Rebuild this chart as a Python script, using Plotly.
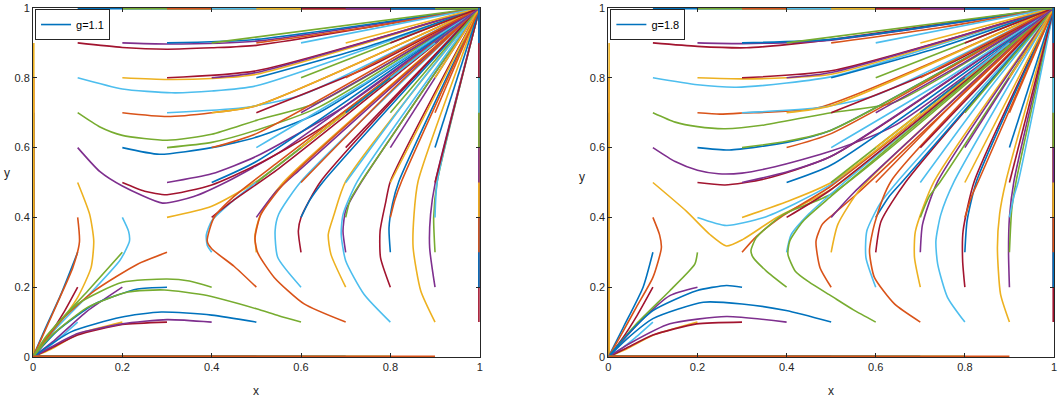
import plotly.graph_objects as go

# MATLAB default colour order, cycled in plotting order (outer loop x0, inner loop y0)
COLORS = ['#0072BD', '#D95319', '#EDB120', '#7E2F8E', '#77AC30', '#4DBEEE', '#A2142F']
TICK_VALS = [0, 0.2, 0.4, 0.6, 0.8, 1]
TICK_TEXT = ['0', '0.2', '0.4', '0.6', '0.8', '1']
PANEL_LABELS = ['g=1.1', 'g=1.8']

# ---- boundary trajectories (same in both panels) ----
LEFT_EDGE = [[[0, 0]], [[0, 0.1], [0, 0]], [[0, 0.2], [0, 0]], [[0, 0.3], [0, 0]], [[0, 0.4], [0, 0]],
             [[0, 0.5], [0, 0]], [[0, 0.6], [0, 0]], [[0, 0.7], [0, 0]], [[0, 0.8], [0, 0]],
             [[0, 0.9], [0, 0]], [[0, 1]]]
RIGHT_EDGE = [[[1, 0]], [[1, 0.1], [1, 1]], [[1, 0.2], [1, 1]], [[1, 0.3], [1, 1]], [[1, 0.4], [1, 1]],
              [[1, 0.5], [1, 1]], [[1, 0.6], [1, 1]], [[1, 0.7], [1, 1]], [[1, 0.8], [1, 1]],
              [[1, 0.9], [1, 1]], [[1, 1]]]
BOTTOM_EDGE = [[[0.1, 0], [0, 0]], [[0.2, 0], [0, 0]], [[0.3, 0], [0, 0]], [[0.4, 0], [0, 0]],
               [[0.5, 0], [0, 0]], [[0.6, 0], [0, 0]], [[0.7, 0], [0, 0]], [[0.8, 0], [0, 0]],
               [[0.9, 0], [0, 0]]]
TOP_EDGE = [[[0.1, 1], [1, 1]], [[0.2, 1], [1, 1]], [[0.3, 1], [1, 1]], [[0.4, 1], [1, 1]],
            [[0.5, 1], [1, 1]], [[0.6, 1], [1, 1]], [[0.7, 1], [1, 1]], [[0.8, 1], [1, 1]],
            [[0.9, 1], [1, 1]]]

# ---- g = 1.1 : interior trajectories, one list per starting x0, y0 = 0.1 ... 0.9 ----
g11_x1 = [
    [[0.1, 0.1], [0.06, 0.055], [0.025, 0.02], [0, 0]],
    [[0.1, 0.2], [0.07, 0.13], [0.035, 0.06], [0, 0]],
    [[0.1, 0.3], [0.063, 0.181], [0.026, 0.077], [0, 0]],
    [[0.1, 0.4], [0.104, 0.33], [0.089, 0.256], [0.06, 0.17], [0.025, 0.07], [0, 0]],
    [[0.1, 0.5], [0.127, 0.408], [0.136, 0.332], [0.13, 0.256], [0.1, 0.171], [0.048, 0.077], [0, 0]],
    [[0.1, 0.6], [0.15, 0.531], [0.2, 0.49], [0.29, 0.441], [0.36, 0.46], [0.435, 0.503], [0.55, 0.585], [0.7, 0.72], [1, 1]],
    [[0.1, 0.7], [0.15, 0.659], [0.2, 0.635], [0.3, 0.621], [0.4, 0.638], [0.5, 0.678], [0.64, 0.73], [1, 1]],
    [[0.1, 0.8], [0.2, 0.768], [0.31, 0.757], [0.4, 0.762], [0.5, 0.777], [1, 1]],
    [[0.1, 0.9], [0.2, 0.887], [0.3, 0.882], [0.4, 0.886], [0.5, 0.893], [1, 1]],
]
g11_x2 = [
    [[0.2, 0.1], [0.1, 0.065], [0.04, 0.022], [0, 0]],
    [[0.2, 0.2], [0.12, 0.13], [0.05, 0.05], [0, 0]],
    [[0.2, 0.3], [0.123, 0.19], [0.048, 0.086], [0, 0]],
    [[0.2, 0.4], [0.214, 0.36], [0.216, 0.332], [0.205, 0.3], [0.194, 0.276], [0.13, 0.185], [0.05, 0.08], [0, 0]],
    [[0.2, 0.5], [0.25, 0.475], [0.3, 0.465], [0.4, 0.493], [0.5, 0.55], [0.65, 0.66], [1, 1]],
    [[0.2, 0.6], [0.283, 0.581], [0.4, 0.6], [0.5, 0.63], [0.64, 0.7], [1, 1]],
    [[0.2, 0.7], [0.3, 0.689], [0.4, 0.7], [0.5, 0.72], [1, 1]],
    [[0.2, 0.8], [0.3, 0.795], [0.4, 0.798], [0.5, 0.81], [1, 1]],
    [[0.2, 0.9], [0.3, 0.897], [0.5, 0.905], [1, 1]],
]
g11_x3 = [
    [[0.3, 0.1], [0.2, 0.093], [0.1, 0.063], [0.04, 0.025], [0, 0]],
    [[0.3, 0.2], [0.234, 0.195], [0.138, 0.152], [0.056, 0.077], [0, 0]],
    [[0.3, 0.3], [0.234, 0.266], [0.138, 0.19], [0.063, 0.105], [0, 0]],
    [[0.3, 0.4], [0.4, 0.432], [0.5, 0.503], [0.7, 0.7], [1, 1]],
    [[0.3, 0.5], [0.4, 0.525], [0.5, 0.575], [0.7, 0.72], [1, 1]],
    [[0.3, 0.6], [0.4, 0.615], [0.5, 0.65], [0.64, 0.716], [1, 1]],
    [[0.3, 0.7], [0.47, 0.714], [0.6, 0.75], [1, 1]],
    [[0.3, 0.8], [0.5, 0.82], [1, 1]],
    [[0.3, 0.9], [0.5, 0.91], [1, 1]],
]
g11_x4 = [
    [[0.4, 0.1], [0.3, 0.107], [0.2, 0.095], [0.1, 0.067], [0.04, 0.028], [0, 0]],
    [[0.4, 0.2], [0.35, 0.218], [0.3, 0.2235], [0.2, 0.214], [0.1, 0.152], [0.03, 0.06], [0, 0]],
    [[0.4, 0.3], [0.39, 0.32], [0.388, 0.35], [0.4, 0.39], [0.45, 0.45], [0.55, 0.55], [1, 1]],
    [[0.4, 0.4], [0.45, 0.45], [0.55, 0.54], [1, 1]],
    [[0.4, 0.5], [0.5, 0.56], [1, 1]],
    [[0.4, 0.6], [0.5, 0.64], [1, 1]],
    [[0.4, 0.7], [0.5, 0.72], [1, 1]],
    [[0.4, 0.8], [0.5, 0.815], [1, 1]],
    [[0.4, 0.9], [1, 1]],
]
g11_x5 = [
    [[0.5, 0.1], [0.4, 0.12], [0.287, 0.129], [0.197, 0.114], [0.085, 0.072], [0, 0]],
    [[0.5, 0.2], [0.45, 0.26], [0.4, 0.31], [0.39, 0.332], [0.405, 0.399], [0.45, 0.46], [0.55, 0.56], [1, 1]],
    [[0.5, 0.3], [0.497, 0.35], [0.51, 0.41], [0.56, 0.5], [1, 1]],
    [[0.5, 0.4], [0.544, 0.474], [0.6, 0.54], [1, 1]],
    [[0.5, 0.5], [1, 1]],
    [[0.5, 0.6], [0.75, 0.79], [1, 1]],
    [[0.5, 0.7], [0.75, 0.83], [1, 1]],
    [[0.5, 0.8], [0.75, 0.89], [1, 1]],
    [[0.5, 0.9], [0.75, 0.945], [1, 1]],
]
g11_x6 = [
    [[0.6, 0.1], [0.55, 0.118], [0.5, 0.138], [0.39, 0.176], [0.294, 0.192], [0.212, 0.186], [0.123, 0.143], [0.04, 0.06], [0, 0]],
    [[0.6, 0.2], [0.548, 0.285], [0.542, 0.361], [0.55, 0.409], [0.6, 0.503], [1, 1]],
    [[0.6, 0.3], [0.594, 0.361], [0.6, 0.4], [0.644, 0.503], [1, 1]],
    [[0.6, 0.4], [0.62, 0.45], [0.65, 0.503], [1, 1]],
    [[0.6, 0.5], [0.8, 0.76], [1, 1]],
    [[0.6, 0.6], [1, 1]],
    [[0.6, 0.7], [0.8, 0.845], [1, 1]],
    [[0.6, 0.8], [1, 1]],
    [[0.6, 0.9], [1, 1]],
]
g11_x7 = [
    [[0.7, 0.1], [0.607, 0.152], [0.54, 0.228], [0.503, 0.299], [0.497, 0.34], [0.51, 0.408], [0.566, 0.503], [1, 1]],
    [[0.7, 0.2], [0.667, 0.294], [0.661, 0.351], [0.674, 0.408], [0.7, 0.503], [1, 1]],
    [[0.7, 0.3], [0.694, 0.361], [0.7, 0.42], [0.736, 0.503], [1, 1]],
    [[0.7, 0.4], [0.71, 0.45], [0.735, 0.503], [1, 1]],
    [[0.7, 0.5], [0.85, 0.76], [1, 1]],
    [[0.7, 0.6], [1, 1]],
    [[0.7, 0.7], [1, 1]],
    [[0.7, 0.8], [1, 1]],
    [[0.7, 0.9], [1, 1]],
]
g11_x8 = [
    [[0.8, 0.1], [0.741, 0.18], [0.7, 0.276], [0.69, 0.351], [0.694, 0.408], [0.726, 0.503], [1, 1]],
    [[0.8, 0.2], [0.778, 0.285], [0.777, 0.361], [0.79, 0.446], [0.8, 0.503], [1, 1]],
    [[0.8, 0.3], [0.797, 0.37], [0.805, 0.44], [0.819, 0.503], [1, 1]],
    [[0.8, 0.4], [0.81, 0.45], [0.825, 0.503], [1, 1]],
    [[0.8, 0.5], [1, 1]],
    [[0.8, 0.6], [1, 1]],
    [[0.8, 0.7], [1, 1]],
    [[0.8, 0.8], [1, 1]],
    [[0.8, 0.9], [1, 1]],
]
g11_x9 = [
    [[0.9, 0.1], [0.868, 0.19], [0.851, 0.313], [0.853, 0.408], [0.862, 0.503], [1, 1]],
    [[0.9, 0.2], [0.888, 0.313], [0.89, 0.408], [0.901, 0.503], [1, 1]],
    [[0.9, 0.3], [0.897, 0.4], [0.905, 0.503], [1, 1]],
    [[0.9, 0.4], [0.905, 0.503], [1, 1]],
    [[0.9, 0.5], [1, 1]],
    [[0.9, 0.6], [1, 1]],
    [[0.9, 0.7], [1, 1]],
    [[0.9, 0.8], [1, 1]],
    [[0.9, 0.9], [1, 1]],
]

# ---- g = 1.8 ----
g18_x1 = [
    [[0.1, 0.1], [0.06, 0.055], [0.025, 0.02], [0, 0]],
    [[0.1, 0.2], [0.065, 0.12], [0.03, 0.05], [0, 0]],
    [[0.1, 0.3], [0.078, 0.2], [0.034, 0.086], [0, 0]],
    [[0.1, 0.4], [0.115, 0.35], [0.119, 0.313], [0.1, 0.228], [0.063, 0.143], [0.025, 0.055], [0, 0]],
    [[0.1, 0.5], [0.175, 0.418], [0.228, 0.351], [0.265, 0.318], [0.302, 0.337], [0.377, 0.399], [0.504, 0.484], [1, 1]],
    [[0.1, 0.6], [0.15, 0.56], [0.2, 0.535], [0.247, 0.525], [0.3, 0.527], [0.374, 0.545], [0.5, 0.59], [0.642, 0.663], [1, 1]],
    [[0.1, 0.7], [0.15, 0.673], [0.2, 0.66], [0.262, 0.654], [0.35, 0.665], [0.5, 0.7], [0.642, 0.73], [1, 1]],
    [[0.1, 0.8], [0.2, 0.78], [0.287, 0.773], [0.4, 0.785], [0.504, 0.804], [1, 1]],
    [[0.1, 0.9], [0.2, 0.89], [0.31, 0.886], [0.4, 0.895], [0.504, 0.91], [1, 1]],
]
g18_x2 = [
    [[0.2, 0.1], [0.1, 0.062], [0.04, 0.022], [0, 0]],
    [[0.2, 0.2], [0.138, 0.176], [0.07, 0.1], [0, 0]],
    [[0.2, 0.3], [0.194, 0.266], [0.138, 0.19], [0.063, 0.095], [0, 0]],
    [[0.2, 0.4], [0.265, 0.377], [0.347, 0.399], [0.42, 0.44], [0.504, 0.498], [1, 1]],
    [[0.2, 0.5], [0.262, 0.493], [0.35, 0.51], [0.5, 0.575], [1, 1]],
    [[0.2, 0.6], [0.272, 0.593], [0.4, 0.615], [0.5, 0.65], [1, 1]],
    [[0.2, 0.7], [0.25, 0.696], [0.3, 0.699], [0.47, 0.714], [1, 1]],
    [[0.2, 0.8], [0.3, 0.797], [0.4, 0.8], [0.5, 0.81], [1, 1]],
    [[0.2, 0.9], [0.3, 0.898], [0.5, 0.908], [1, 1]],
]
g18_x3 = [
    [[0.3, 0.1], [0.198, 0.095], [0.1, 0.063], [0.04, 0.025], [0, 0]],
    [[0.3, 0.2], [0.265, 0.205], [0.198, 0.19], [0.1, 0.133], [0.04, 0.06], [0, 0]],
    [[0.3, 0.3], [0.332, 0.345], [0.392, 0.405], [0.5, 0.49], [1, 1]],
    [[0.3, 0.4], [0.4, 0.445], [0.504, 0.503], [1, 1]],
    [[0.3, 0.5], [0.4, 0.53], [0.5, 0.575], [1, 1]],
    [[0.3, 0.6], [0.4, 0.618], [0.5, 0.65], [1, 1]],
    [[0.3, 0.7], [0.471, 0.714], [0.6, 0.75], [1, 1]],
    [[0.3, 0.8], [0.5, 0.82], [1, 1]],
    [[0.3, 0.9], [0.5, 0.91], [1, 1]],
]
g18_x4 = [
    [[0.4, 0.1], [0.265, 0.116], [0.138, 0.095], [0.05, 0.04], [0, 0]],
    [[0.4, 0.2], [0.354, 0.247], [0.325, 0.285], [0.32, 0.304], [0.332, 0.342], [0.392, 0.408], [0.504, 0.47], [1, 1]],
    [[0.4, 0.3], [0.41, 0.35], [0.45, 0.41], [0.52, 0.49], [1, 1]],
    [[0.4, 0.4], [0.5, 0.48], [1, 1]],
    [[0.4, 0.5], [0.5, 0.55], [1, 1]],
    [[0.4, 0.6], [0.5, 0.64], [1, 1]],
    [[0.4, 0.7], [0.5, 0.72], [1, 1]],
    [[0.4, 0.8], [0.5, 0.815], [1, 1]],
    [[0.4, 0.9], [1, 1]],
]
g18_x5 = [
    [[0.5, 0.1], [0.399, 0.133], [0.3, 0.152], [0.213, 0.157], [0.1, 0.11], [0.04, 0.05], [0, 0]],
    [[0.5, 0.2], [0.475, 0.256], [0.466, 0.332], [0.48, 0.38], [0.504, 0.408], [0.56, 0.47], [1, 1]],
    [[0.5, 0.3], [0.515, 0.38], [0.567, 0.484], [1, 1]],
    [[0.5, 0.4], [0.55, 0.47], [1, 1]],
    [[0.5, 0.5], [1, 1]],
    [[0.5, 0.6], [0.75, 0.79], [1, 1]],
    [[0.5, 0.7], [0.75, 0.83], [1, 1]],
    [[0.5, 0.8], [0.75, 0.89], [1, 1]],
    [[0.5, 0.9], [0.75, 0.945], [1, 1]],
]
g18_x6 = [
    [[0.6, 0.1], [0.55, 0.135], [0.5, 0.175], [0.45, 0.215], [0.42, 0.245], [0.403, 0.294], [0.407, 0.332], [0.437, 0.389], [0.504, 0.465], [1, 1]],
    [[0.6, 0.2], [0.578, 0.285], [0.58, 0.361], [0.61, 0.44], [0.649, 0.503], [1, 1]],
    [[0.6, 0.3], [0.612, 0.389], [0.668, 0.503], [1, 1]],
    [[0.6, 0.4], [0.63, 0.46], [0.66, 0.503], [1, 1]],
    [[0.6, 0.5], [0.8, 0.76], [1, 1]],
    [[0.6, 0.6], [1, 1]],
    [[0.6, 0.7], [0.8, 0.845], [1, 1]],
    [[0.6, 0.8], [1, 1]],
    [[0.6, 0.9], [1, 1]],
]
g18_x7 = [
    [[0.7, 0.1], [0.642, 0.152], [0.597, 0.228], [0.586, 0.304], [0.597, 0.38], [0.634, 0.503], [1, 1]],
    [[0.7, 0.2], [0.687, 0.285], [0.689, 0.36], [0.731, 0.503], [1, 1]],
    [[0.7, 0.3], [0.705, 0.38], [0.739, 0.503], [1, 1]],
    [[0.7, 0.4], [0.72, 0.46], [0.745, 0.503], [1, 1]],
    [[0.7, 0.5], [0.85, 0.76], [1, 1]],
    [[0.7, 0.6], [1, 1]],
    [[0.7, 0.7], [1, 1]],
    [[0.7, 0.8], [1, 1]],
    [[0.7, 0.9], [1, 1]],
]
g18_x8 = [
    [[0.8, 0.1], [0.761, 0.171], [0.739, 0.266], [0.735, 0.332], [0.746, 0.408], [0.776, 0.503], [1, 1]],
    [[0.8, 0.2], [0.795, 0.276], [0.796, 0.361], [0.821, 0.503], [1, 1]],
    [[0.8, 0.3], [0.805, 0.39], [0.826, 0.503], [1, 1]],
    [[0.8, 0.4], [0.815, 0.46], [0.83, 0.503], [1, 1]],
    [[0.8, 0.5], [1, 1]],
    [[0.8, 0.6], [1, 1]],
    [[0.8, 0.7], [1, 1]],
    [[0.8, 0.8], [1, 1]],
    [[0.8, 0.9], [1, 1]],
]
g18_x9 = [
    [[0.9, 0.1], [0.88, 0.18], [0.873, 0.313], [0.878, 0.41], [0.892, 0.503], [1, 1]],
    [[0.9, 0.2], [0.898, 0.3], [0.9, 0.4], [0.91, 0.503], [1, 1]],
    [[0.9, 0.3], [0.905, 0.42], [0.915, 0.503], [1, 1]],
    [[0.9, 0.4], [0.91, 0.46], [0.92, 0.503], [1, 1]],
    [[0.9, 0.5], [1, 1]],
    [[0.9, 0.6], [1, 1]],
    [[0.9, 0.7], [1, 1]],
    [[0.9, 0.8], [1, 1]],
    [[0.9, 0.9], [1, 1]],
]

G11_INTERIOR = [g11_x1, g11_x2, g11_x3, g11_x4, g11_x5, g11_x6, g11_x7, g11_x8, g11_x9]
G18_INTERIOR = [g18_x1, g18_x2, g18_x3, g18_x4, g18_x5, g18_x6, g18_x7, g18_x8, g18_x9]


def columns(interior):
    cols = [LEFT_EDGE]
    for i, col in enumerate(interior):
        cols.append([BOTTOM_EDGE[i]] + col + [TOP_EDGE[i]])
    cols.append(RIGHT_EDGE)
    return cols


fig = go.Figure()
FONT = 'Liberation Sans, Arial, sans-serif'
AX_COLOR = '#262626'


def add_panel(interior, xa, ya, legend, label):
    k = 0
    for col in columns(interior):
        for curve in col:
            xs = [p[0] for p in curve]
            ys = [p[1] for p in curve]
            on_edge = len(xs) > 1 and ((xs[0] in (0, 1) and xs[-1] == xs[0]) or
                                       (ys[0] in (0, 1) and ys[-1] == ys[0]))
            fig.add_trace(go.Scatter(
                x=xs, y=ys, mode='lines', xaxis=xa, yaxis=ya,
                line=dict(color=COLORS[k % 7], width=3.2 if on_edge else 1.6,
                          shape='spline', smoothing=0.6),
                name=label, showlegend=(k == 0), legend=legend, hoverinfo='skip'))
            k += 1


add_panel(G11_INTERIOR, 'x', 'y', 'legend', PANEL_LABELS[0])
add_panel(G18_INTERIOR, 'x2', 'y2', 'legend2', PANEL_LABELS[1])

axis_common = dict(range=[0, 1], showline=True, linecolor=AX_COLOR, linewidth=1, mirror='ticks',
                   ticks='inside', ticklen=4, tickcolor=AX_COLOR, tickwidth=1, showgrid=False,
                   zeroline=False, tickvals=TICK_VALS, ticktext=TICK_TEXT, ticklabeloverflow='allow',
                   tickfont=dict(family=FONT, size=11, color=AX_COLOR), fixedrange=True)

legend_common = dict(xanchor='left', yanchor='top', bgcolor='white', bordercolor=AX_COLOR,
                     borderwidth=1, font=dict(family=FONT, size=11, color='#000000'),
                     itemwidth=30, tracegroupgap=0)

fig.update_layout(
    width=1059, height=398,
    margin=dict(l=33, r=2, t=5, b=41),
    paper_bgcolor='white', plot_bgcolor='white',
    xaxis=dict(domain=[0, 0.4375], anchor='y', **axis_common),
    yaxis=dict(domain=[0, 1], anchor='x', **axis_common),
    xaxis2=dict(domain=[0.5635, 1], anchor='y2', **axis_common),
    yaxis2=dict(domain=[0, 1], anchor='x2', **axis_common),
    legend=dict(x=0.002, y=0.997, **legend_common),
    legend2=dict(x=0.5655, y=0.997, **legend_common),
    annotations=[
        dict(text='x', xref='x domain', yref='paper', x=0.5, y=-0.097, showarrow=False,
             font=dict(family=FONT, size=12, color=AX_COLOR), xanchor='center', yanchor='middle'),
        dict(text='y', xref='x domain', yref='paper', x=-0.058, y=0.526, showarrow=False,
             font=dict(family=FONT, size=12, color=AX_COLOR), xanchor='center', yanchor='middle'),
        dict(text='x', xref='x2 domain', yref='paper', x=0.5, y=-0.097, showarrow=False,
             font=dict(family=FONT, size=12, color=AX_COLOR), xanchor='center', yanchor='middle'),
        dict(text='y', xref='x2 domain', yref='paper', x=-0.058, y=0.517, showarrow=False,
             font=dict(family=FONT, size=12, color=AX_COLOR), xanchor='center', yanchor='middle'),
    ],
)

# remove the browser's default 8px page margin so the 1059x398 figure fills the window exactly
fig.write_html('out.html',
               config={'displayModeBar': False},
               post_script="document.body.style.margin='0';document.body.style.overflow='hidden';")
